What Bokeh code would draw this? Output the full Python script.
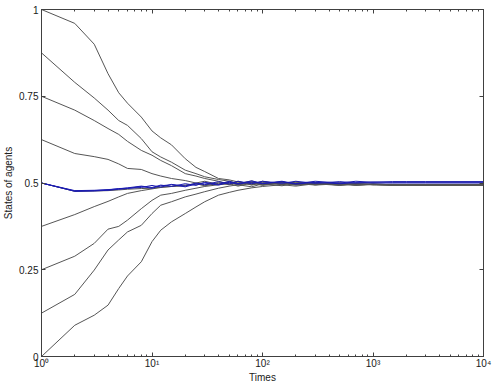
from bokeh.plotting import figure
from bokeh.models import LogAxis, LinearAxis, FixedTicker
from bokeh.embed import file_html
from bokeh.resources import INLINE

# sample times (log axis)
times = [1, 2, 3, 4, 5, 6, 8, 10, 12, 15, 20, 25, 30, 40, 50, 60, 80, 100,
         150, 200, 300, 500, 700, 1000, 1500, 2000, 3000, 10000]

# gray agents
agent_1 = [1.0, 0.96, 0.90, 0.815, 0.76, 0.73, 0.69, 0.65, 0.63, 0.61, 0.57, 0.545, 0.533, 0.513, 0.509, 0.503, 0.497, 0.505, 0.496, 0.503, 0.495, 0.500, 0.496, 0.497, 0.495, 0.495, 0.495, 0.495]
agent_2 = [0.875, 0.79, 0.745, 0.71, 0.68, 0.666, 0.628, 0.59, 0.575, 0.56, 0.537, 0.527, 0.518, 0.51, 0.505, 0.498, 0.506, 0.497, 0.504, 0.496, 0.501, 0.495, 0.499, 0.495, 0.496, 0.495, 0.495, 0.495]
agent_3 = [0.75, 0.71, 0.68, 0.657, 0.64, 0.62, 0.594, 0.58, 0.565, 0.55, 0.527, 0.52, 0.513, 0.505, 0.497, 0.505, 0.495, 0.503, 0.497, 0.503, 0.496, 0.500, 0.495, 0.497, 0.495, 0.495, 0.494, 0.494]
agent_4 = [0.625, 0.585, 0.576, 0.568, 0.555, 0.542, 0.539, 0.527, 0.52, 0.513, 0.507, 0.5, 0.505, 0.496, 0.503, 0.495, 0.502, 0.495, 0.502, 0.496, 0.500, 0.494, 0.498, 0.496, 0.494, 0.494, 0.494, 0.494]
agent_5 = [0.5, 0.476, 0.477, 0.478, 0.48, 0.482, 0.484, 0.485, 0.488, 0.49, 0.492, 0.497, 0.494, 0.501, 0.495, 0.503, 0.494, 0.501, 0.495, 0.500, 0.495, 0.499, 0.494, 0.496, 0.494, 0.495, 0.494, 0.494]
agent_6 = [0.375, 0.409, 0.432, 0.447, 0.46, 0.47, 0.478, 0.483, 0.487, 0.49, 0.494, 0.498, 0.492, 0.499, 0.503, 0.494, 0.502, 0.495, 0.501, 0.495, 0.500, 0.496, 0.494, 0.497, 0.495, 0.494, 0.494, 0.494]
agent_7 = [0.25, 0.289, 0.326, 0.367, 0.375, 0.393, 0.426, 0.45, 0.465, 0.47, 0.479, 0.485, 0.49, 0.495, 0.498, 0.491, 0.500, 0.493, 0.501, 0.494, 0.499, 0.494, 0.497, 0.495, 0.494, 0.495, 0.494, 0.494]
agent_8 = [0.125, 0.179, 0.249, 0.307, 0.336, 0.359, 0.378, 0.412, 0.436, 0.446, 0.46, 0.468, 0.475, 0.485, 0.491, 0.495, 0.489, 0.498, 0.492, 0.499, 0.494, 0.498, 0.493, 0.496, 0.494, 0.494, 0.494, 0.494]
agent_9 = [0.0, 0.09, 0.119, 0.148, 0.196, 0.232, 0.273, 0.331, 0.364, 0.388, 0.412, 0.431, 0.446, 0.465, 0.473, 0.479, 0.486, 0.49, 0.495, 0.491, 0.498, 0.493, 0.497, 0.495, 0.494, 0.494, 0.494, 0.494]

# blue agents
blue_1 = [0.5, 0.478, 0.479, 0.481, 0.483, 0.486, 0.491, 0.487, 0.494, 0.490, 0.498, 0.493, 0.502, 0.496, 0.505, 0.498, 0.506, 0.499, 0.505, 0.498, 0.505, 0.500, 0.505, 0.502, 0.504, 0.504, 0.504, 0.504]
blue_2 = [0.5, 0.477, 0.478, 0.48, 0.484, 0.485, 0.487, 0.493, 0.488, 0.496, 0.491, 0.500, 0.495, 0.504, 0.497, 0.505, 0.498, 0.505, 0.499, 0.505, 0.499, 0.504, 0.500, 0.503, 0.502, 0.502, 0.502, 0.502]
blue_3 = [0.5, 0.476, 0.477, 0.479, 0.482, 0.484, 0.490, 0.485, 0.492, 0.495, 0.489, 0.497, 0.500, 0.494, 0.502, 0.497, 0.503, 0.498, 0.503, 0.497, 0.502, 0.498, 0.501, 0.500, 0.500, 0.500, 0.500, 0.500]

gray_agents = [agent_1, agent_2, agent_3, agent_4, agent_5, agent_6, agent_7, agent_8, agent_9]
blue_agents = [blue_1, blue_2, blue_3]

x_major = [1, 10, 100, 1000, 10000]
x_labels = ["10\u2070", "10\u00b9", "10\u00b2", "10\u00b3", "10\u2074"]
x_minor = [k * d for d in [1, 10, 100, 1000] for k in range(2, 10)]
y_ticks = [0, 0.25, 0.5, 0.75, 1]
y_labels = ["0", "0.25", "0.5", "0.75", "1"]

FONT = "Liberation Sans"
AX = "#404040"

p = figure(frame_width=442, frame_height=347, x_axis_type="log", x_range=(1, 1e4), y_range=(0, 1),
           output_backend="svg", toolbar_location=None,
           min_border_left=0, min_border_right=9, min_border_top=9, min_border_bottom=0)
p.xgrid.visible = False
p.ygrid.visible = False
p.outline_line_color = AX
p.background_fill_color = "white"
p.border_fill_color = "white"

for s in gray_agents:
    p.line(times, s, line_color="#555555", line_width=1)
for s in blue_agents:
    p.line(times, s, line_color="#1c1cb0", line_width=1)

def style(ax):
    ax.axis_line_color = AX
    ax.major_tick_line_color = AX
    ax.minor_tick_line_color = AX
    ax.major_tick_in = 4
    ax.major_tick_out = 0
    ax.minor_tick_in = 2
    ax.minor_tick_out = 0
    ax.major_label_text_font = FONT
    ax.major_label_text_font_size = "10px"
    ax.major_label_text_color = "#202020"
    ax.axis_label_text_font = FONT
    ax.axis_label_text_font_size = "10px"
    ax.axis_label_text_font_style = "normal"
    ax.axis_label_text_color = "#202020"

xa = p.xaxis[0]
xa.ticker = FixedTicker(ticks=x_major, minor_ticks=x_minor)
style(xa)
xa.major_label_overrides = dict(zip(x_major, x_labels))
xa.major_label_standoff = 1
xa.axis_label = "Times"
xa.axis_label_standoff = 0

ya = p.yaxis[0]
ya.ticker = FixedTicker(ticks=y_ticks, minor_ticks=[])
style(ya)
ya.major_label_overrides = dict(zip(y_ticks, y_labels))
ya.major_label_standoff = 3
ya.axis_label = "States of agents"
ya.axis_label_standoff = 2

top = LogAxis(ticker=FixedTicker(ticks=x_major, minor_ticks=x_minor))
style(top)
top.major_label_text_font_size = "1px"
top.major_label_text_alpha = 0
top.major_label_standoff = 0
p.add_layout(top, "above")

right = LinearAxis(ticker=FixedTicker(ticks=y_ticks, minor_ticks=[]))
style(right)
right.major_label_text_font_size = "1px"
right.major_label_text_alpha = 0
right.major_label_standoff = 0
p.add_layout(right, "right")

open("out.html", "w").write(file_html(p, INLINE))
